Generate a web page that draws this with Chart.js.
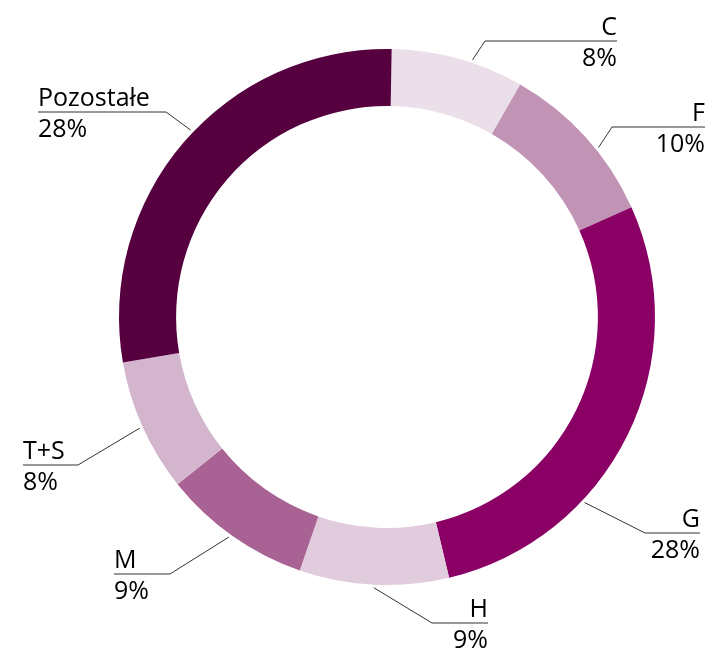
<!DOCTYPE html>
<html>
<head>
<meta charset="utf-8">
<script src="https://cdn.jsdelivr.net/npm/chart.js@4"></script>
<style>
  html, body { margin: 0; padding: 0; background: #fff; }
  #wrap { width: 706px; height: 648px; }
</style>
</head>
<body>
<div id="wrap"><canvas id="chartCanvas" width="706" height="648"></canvas></div>
<script>
const categories = ["C", "F", "G", "H", "M", "T+S", "Pozostałe"];
const shares = [8, 10, 28, 9, 9, 8, 28];
const percentLabels = ["8%", "10%", "28%", "9%", "9%", "8%", "28%"];
const colors = ["#ebdfe9", "#c194b6", "#8a0065", "#e1ccdd", "#a86293", "#d3b5cd", "#560040"];

// label placement: elbow offset from centre, end of the horizontal rule, tweak of anchor angle (deg)
const labelLayout = [
    {ex: 98, ey: -276, end: 230, tweak: 3},
    {ex: 225, ey: -190, end: 318, tweak: 3.5},
    {ex: 258, ey: 216, end: 313, tweak: 17},
    {ex: 45, ey: 306, end: 101, tweak: 0},
    {ex: -217, ey: 257, end: -273, tweak: 0.5},
    {ex: -309, ey: 148, end: -364, tweak: 0},
    {ex: -221, ey: -205, end: -349, tweak: 3}
];

const leaderLabels = {
    id: "leaderLabels",
    afterDraw(chart){
        const ctx = chart.ctx;
        const arcs = chart.getDatasetMeta(0).data;
        ctx.save();
        ctx.font = "25px 'Open Sans'";
        ctx.fillStyle = "#000";
        arcs.forEach((arc, i) => {
            const lay = labelLayout[i];
            const cx = arc.x, cy = arc.y;
            const mid = (arc.startAngle + arc.endAngle) / 2 + lay.tweak * Math.PI / 180;
            const r = arc.outerRadius + 3;
            const ax = cx + Math.cos(mid) * r;
            const ay = cy + Math.sin(mid) * r;
            const bx = cx + lay.ex, by = cy + lay.ey;
            const endX = cx + lay.end;
            ctx.strokeStyle = "#333";
            ctx.lineWidth = 1;
            ctx.beginPath();
            ctx.moveTo(ax, ay);
            ctx.lineTo(bx, by);
            ctx.lineTo(endX, by);
            ctx.stroke();
            ctx.textAlign = lay.end > 0 ? "right" : "left";
            ctx.textBaseline = "alphabetic";
            ctx.fillText(categories[i], endX, by - 6);
            ctx.fillText(percentLabels[i], endX, by + 25);
        });
        ctx.restore();
    }
};

let ctx = document.getElementById("chartCanvas").getContext("2d");
let chartInstance = new Chart(ctx, {
    type: "doughnut",
    data: {
        labels: categories,
        datasets: [{
            data: shares,
            backgroundColor: colors,
            borderWidth: 0
        }]
    },
    options: {
        responsive: false,
        animation: false,
        cutout: "78.7%",
        rotation: 1,
        layout: { padding: { top: 49, bottom: 63, left: 119, right: 51 } },
        plugins: { legend: { display: false }, tooltip: { enabled: false } }
    },
    plugins: [leaderLabels]
});
</script>
</body>
</html>
